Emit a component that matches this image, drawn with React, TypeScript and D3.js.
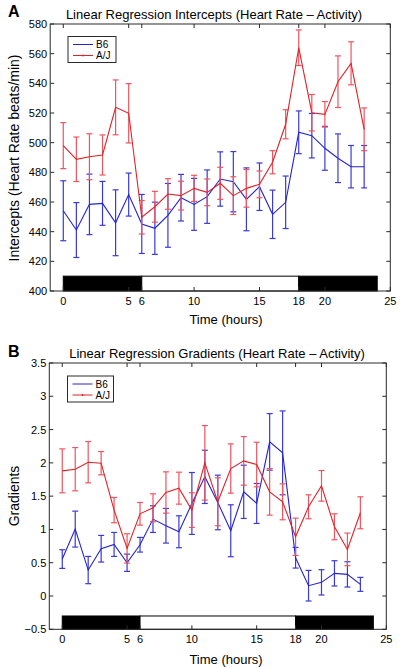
import React from 'react';
import * as d3 from 'd3';

const hours = [0, 1, 2, 3, 4, 5, 6, 7, 8, 9, 10, 11, 12, 13, 14, 15, 16, 17, 18, 19, 20, 21, 22, 23];

const interceptB6 = [454.1, 441.1, 458.4, 459.1, 446, 465, 445.2, 442.3, 451, 462.9, 458.4, 463.6, 475.5, 473.7, 461.8, 470.3, 451.7, 459.8, 507, 504.7, 496.2, 489.5, 483.8, 483.8];
const interceptB6Err = [20.2, 18.5, 20.4, 14.8, 22.2, 14.5, 19.9, 17.6, 21.5, 15.7, 17.5, 18, 18.3, 20.3, 21.2, 16, 16.3, 17.7, 14.4, 15, 14.8, 16.4, 14.3, 14.3];
const interceptAJ = [498, 488.8, 490.5, 491.7, 523.8, 519.8, 449.7, 456.8, 465.4, 464.3, 469.2, 466.5, 472.6, 464.3, 469.2, 471.9, 486.8, 512.4, 564, 520.2, 519.1, 541.1, 553.5, 509];
const interceptAJErr = [15.5, 15, 15.5, 13.5, 18.5, 20, 11.3, 10.4, 10.3, 9.7, 8.8, 9, 10.8, 12.7, 12.7, 9, 7.8, 9.8, 12, 12.3, 8.6, 17.4, 14.5, 14.4];

const gradientB6 = [0.555, 1.005, 0.39, 0.71, 0.775, 0.5, 0.77, 1.155, 1.055, 0.965, 1.39, 1.79, 1.405, 0.98, 1.565, 1.39, 2.315, 2.15, 0.575, 0.155, 0.205, 0.34, 0.325, 0.175];
const gradientB6Err = [0.14, 0.27, 0.205, 0.2, 0.18, 0.13, 0.11, 0.2, 0.26, 0.24, 0.465, 0.4, 0.41, 0.39, 0.4, 0.3, 0.425, 0.63, 0.155, 0.23, 0.19, 0.19, 0.19, 0.105];
const gradientAJ = [1.88, 1.905, 2.01, 1.995, 1.29, 0.715, 1.235, 1.325, 1.555, 1.62, 1.29, 2.0, 1.415, 1.915, 2.03, 1.975, 1.565, 1.415, 0.89, 1.34, 1.655, 1.04, 0.7, 1.25];
const gradientAJErr = [0.33, 0.325, 0.31, 0.175, 0.19, 0.22, 0.17, 0.21, 0.31, 0.24, 0.26, 0.56, 0.36, 0.37, 0.365, 0.335, 0.35, 0.27, 0.28, 0.18, 0.23, 0.195, 0.245, 0.24];

const xTicks = [0, 5, 6, 10, 15, 18, 20, 25];
const interceptTicks = [400, 420, 440, 460, 480, 500, 520, 540, 560, 580];
const gradientTicks = [-0.5, 0, 0.5, 1, 1.5, 2, 2.5, 3, 3.5];

const periodStarts = [0, 6, 18];
const periodEnds = [6, 18, 24];
const periodDark = [true, false, true];

const seriesNames = ['B6', 'A/J'];

const BLUE = '#2424cc';
const BLUE_ERR = '#3a3ad8';
const RED = '#e02228';
const RED_ERR = '#ee5560';
const AXIS = '#2a2a2a';
const FONT = '"Liberation Sans", Arial, Helvetica, sans-serif';

type Series = { values: number[]; errs: number[]; color: string; errColor: string };

type PanelProps = {
  left: number; right: number; top: number; bottom: number;
  yDomain: [number, number];
  yTicks: number[];
  barTop: number;
  series: Series[];
  title: string; titleX: number; titleY: number;
  letter: string; letterY: number;
  ylabel: string; ylabelX: number; ylabelY: number;
  xlabelY: number;
  legend: { x: number; y: number; w: number; h: number };
};

const fmt = (v: number) => (v < 0 ? '\u2212' + Math.abs(v) : String(v));

function Panel(p: PanelProps) {
  const x = d3.scaleLinear().domain([-1, 25]).range([p.left, p.right]);
  const y = d3.scaleLinear().domain(p.yDomain).range([p.bottom, p.top]);
  const line = d3.line<number>().x((_, i) => x(hours[i])).y((d) => y(d));
  const tl = 4;
  const cap = 3;
  return (
    <g>
      <text x={8} y={p.letterY} fontFamily={FONT} fontWeight="bold" fontSize={16}>{p.letter}</text>
      <text x={p.titleX} y={p.titleY} fontFamily={FONT} fontSize={13} textAnchor="middle">{p.title}</text>
      {periodStarts.map((s, i) => (
        <rect key={'p' + i} x={x(s)} y={y(p.barTop)} width={x(periodEnds[i]) - x(s)} height={y(p.yDomain[0]) - y(p.barTop)}
          fill={periodDark[i] ? '#000' : '#fff'} stroke="#000" strokeWidth={1} />
      ))}
      {p.series.map((s, si) => (
        <g key={'s' + si}>
          {s.values.map((v, i) => {
            const cx = x(hours[i]);
            const y1 = y(v + s.errs[i]);
            const y2 = y(v - s.errs[i]);
            return (
              <g key={i} stroke={s.errColor} strokeWidth={1.2}>
                <line x1={cx} x2={cx} y1={y1} y2={y2} />
                <line x1={cx - cap} x2={cx + cap} y1={y1} y2={y1} />
                <line x1={cx - cap} x2={cx + cap} y1={y2} y2={y2} />
              </g>
            );
          })}
          <path d={line(s.values) || ''} fill="none" stroke={s.color} strokeWidth={1.1} />
        </g>
      ))}
      <rect x={p.left} y={p.top} width={p.right - p.left} height={p.bottom - p.top} fill="none" stroke={AXIS} strokeWidth={1} />
      {xTicks.map((t) => (
        <g key={'xt' + t}>
          <line x1={x(t)} x2={x(t)} y1={p.bottom} y2={p.bottom - tl} stroke={AXIS} />
          <line x1={x(t)} x2={x(t)} y1={p.top} y2={p.top + tl} stroke={AXIS} />
          <text x={x(t)} y={p.bottom + 14} fontFamily={FONT} fontSize={11} textAnchor="middle">{fmt(t)}</text>
        </g>
      ))}
      {p.yTicks.map((t) => (
        <g key={'yt' + t}>
          <line x1={p.left} x2={p.left + tl} y1={y(t)} y2={y(t)} stroke={AXIS} />
          <line x1={p.right} x2={p.right - tl} y1={y(t)} y2={y(t)} stroke={AXIS} />
          <text x={p.left - 3} y={y(t) + 4} fontFamily={FONT} fontSize={11} textAnchor="end">{fmt(t)}</text>
        </g>
      ))}
      <text x={226} y={p.xlabelY} fontFamily={FONT} fontSize={13} textAnchor="middle">Time (hours)</text>
      <text transform={`translate(${p.ylabelX},${p.ylabelY}) rotate(-90)`} fontFamily={FONT} fontSize={14} textAnchor="middle">{p.ylabel}</text>
      <g>
        <rect x={p.legend.x} y={p.legend.y} width={p.legend.w} height={p.legend.h} fill="#fff" stroke={AXIS} strokeWidth={1} />
        {p.series.map((s, i) => {
          const ly = p.legend.y + 8 + i * 11;
          return (
            <g key={'l' + i}>
              <line x1={p.legend.x + 5} x2={p.legend.x + 25} y1={ly} y2={ly} stroke={s.color} strokeWidth={1} />
              {i === 1 && <circle cx={p.legend.x + 15} cy={ly} r={0.9} fill={s.color} />}
              <text x={p.legend.x + 28} y={ly + 3.5} fontFamily={FONT} fontSize={10}>{seriesNames[i]}</text>
            </g>
          );
        })}
      </g>
    </g>
  );
}

const titleA = 'Linear Regression Intercepts (Heart Rate \u2013 Activity)';
const titleB = 'Linear Regression Gradients (Heart Rate \u2013 Activity)';

export default function App() {
  return (
    <svg width={400} height={668} style={{ position: 'absolute', left: 0, top: 0, background: '#fff' }}>
      <rect x={0} y={0} width={400} height={668} fill="#fff" />
      <Panel
        left={50.2} right={390.3} top={24} bottom={291}
        yDomain={[400, 580]} yTicks={interceptTicks} barTop={410}
        series={[
          { values: interceptB6, errs: interceptB6Err, color: BLUE, errColor: BLUE_ERR },
          { values: interceptAJ, errs: interceptAJErr, color: RED, errColor: RED_ERR },
        ]}
        title={titleA} titleX={214} titleY={19}
        letter="A" letterY={17}
        ylabel="Intercepts (Heart Rate beats/min)" ylabelX={19} ylabelY={158}
        xlabelY={324}
        legend={{ x: 68, y: 36.5, w: 48, h: 26 }}
      />
      <Panel
        left={49.3} right={386.3} top={363} bottom={629.3}
        yDomain={[-0.5, 3.5]} yTicks={gradientTicks} barTop={-0.3}
        series={[
          { values: gradientB6, errs: gradientB6Err, color: BLUE, errColor: BLUE_ERR },
          { values: gradientAJ, errs: gradientAJErr, color: RED, errColor: RED_ERR },
        ]}
        title={titleB} titleX={217} titleY={358}
        letter="B" letterY={357}
        ylabel="Gradients" ylabelX={19} ylabelY={496}
        xlabelY={664}
        legend={{ x: 67.5, y: 376, w: 46, h: 26 }}
      />
    </svg>
  );
}
